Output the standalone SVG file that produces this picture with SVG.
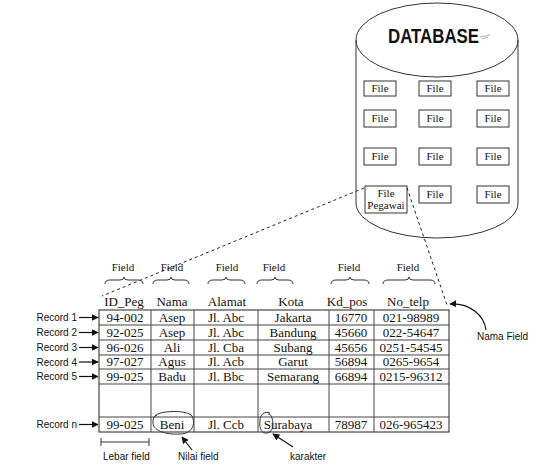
<svg xmlns="http://www.w3.org/2000/svg" width="547" height="466" viewBox="0 0 547 466">
<defs>
<marker id="arr" viewBox="0 0 10 10" refX="9" refY="5" markerWidth="7" markerHeight="7" markerUnits="userSpaceOnUse" orient="auto">
<path d="M0,0 L10,5 L0,10 z" fill="#111"/>
</marker>
</defs>
<style>
.serif{font-family:"Liberation Serif","Times New Roman",serif;fill:#111}
.sans{font-family:"Liberation Sans",Arial,sans-serif;fill:#111}
.box{fill:#fff;stroke:#333;stroke-width:1}
.ln{fill:none;stroke:#333;stroke-width:1}
.dash{fill:none;stroke:#222;stroke-width:1;stroke-dasharray:3,3}
.arrow{fill:none;stroke:#111;stroke-width:1.2;marker-end:url(#arr)}
.file{font-size:11px;text-anchor:middle}
.fld{font-size:11px;text-anchor:middle}
.hdr{font-size:13px;text-anchor:middle}
.cell{font-size:13px;text-anchor:middle}
.rec{font-size:10px;text-anchor:end}
.lbl{font-size:10px}
</style>
<rect width="547" height="466" fill="#fff"/>

<g id="database">
<path d="M356,40 L356,203 A81,35 0 0 0 518,203 L518,40" class="ln"/>
<ellipse cx="437" cy="40" rx="81" ry="37" class="ln"/>
<text x="388" y="43" class="sans" font-size="20" font-weight="bold" textLength="91" lengthAdjust="spacingAndGlyphs">DATABASE</text>
<path d="M480,37 L490,35 M482,39 L488,37" stroke="#999" stroke-width="0.8" fill="none"/>
</g>

<g id="files">
<g id="f11"><rect x="364" y="81" width="32" height="15" class="box"/><text x="380" y="92" class="serif file">File</text></g>
<g id="f12"><rect x="419" y="81" width="32" height="15" class="box"/><text x="435" y="92" class="serif file">File</text></g>
<g id="f13"><rect x="477" y="81" width="32" height="15" class="box"/><text x="493" y="92" class="serif file">File</text></g>
<g id="f21"><rect x="364" y="110" width="32" height="17" class="box"/><text x="380" y="122" class="serif file">File</text></g>
<g id="f22"><rect x="419" y="110" width="32" height="17" class="box"/><text x="435" y="122" class="serif file">File</text></g>
<g id="f23"><rect x="477" y="110" width="32" height="17" class="box"/><text x="493" y="122" class="serif file">File</text></g>
<g id="f31"><rect x="364" y="148" width="32" height="17" class="box"/><text x="380" y="160" class="serif file">File</text></g>
<g id="f32"><rect x="419" y="148" width="32" height="17" class="box"/><text x="435" y="160" class="serif file">File</text></g>
<g id="f33"><rect x="477" y="148" width="32" height="17" class="box"/><text x="493" y="160" class="serif file">File</text></g>
<g id="filePegawai"><rect x="365" y="186" width="42" height="27" class="box"/><text x="386" y="197" class="serif file">File</text><text x="386" y="209" class="serif file">Pegawai</text></g>
<g id="f42"><rect x="419" y="186" width="32" height="17" class="box"/><text x="435" y="198" class="serif file">File</text></g>
<g id="f43"><rect x="477" y="186" width="32" height="17" class="box"/><text x="493" y="198" class="serif file">File</text></g>
</g>

<g id="connectors">
<path d="M364,188 L102,296" class="dash"/>
<path d="M407,188 L447,305" class="dash"/>
<path d="M79,317.5 L98,317.5" class="arrow"/>
<path d="M79,332.5 L98,332.5" class="arrow"/>
<path d="M79,347.5 L98,347.5" class="arrow"/>
<path d="M79,362 L98,362" class="arrow"/>
<path d="M79,376.5 L98,376.5" class="arrow"/>
<path d="M79,424.5 L98,424.5" class="arrow"/>
<path d="M192,450 L182,437" class="arrow"/>
<path d="M293,447 L273,434" class="arrow"/>
<path d="M486,330 C484,315 470,303 450,304" class="arrow"/>
</g>

<g id="fields">
<g fill="none" stroke="#333" stroke-width="1">
<path d="M105,284 Q105,280 110,280 L120,280 Q124,280 124,277 Q124,280 128,280 L138,280 Q143,280 143,284"/>
<path d="M153,284 Q153,280 158,280 L167,280 Q171,280 171,277 Q171,280 175,280 L184,280 Q189,280 189,284"/>
<path d="M208,284 Q208,280 213,280 L222,280 Q226,280 226,277 Q226,280 230,280 L240,280 Q245,280 245,284"/>
<path d="M257,284 Q257,280 262,280 L271,280 Q275,280 275,277 Q275,280 279,280 L288,280 Q293,280 293,284"/>
<path d="M331,284 Q331,280 336,280 L346,280 Q350,280 350,277 Q350,280 354,280 L364,280 Q369,280 369,284"/>
<path d="M383,284 Q383,280 388,280 L405,280 Q409,280 409,277 Q409,280 413,280 L430,280 Q435,280 435,284"/>
</g>
<text x="123" y="271" class="serif fld">Field</text>
<text x="172" y="271" class="serif fld">Field</text>
<text x="227" y="271" class="serif fld">Field</text>
<text x="274" y="271" class="serif fld">Field</text>
<text x="349" y="271" class="serif fld">Field</text>
<text x="408" y="271" class="serif fld">Field</text>
</g>

<g id="table">
<g class="serif hdr">
<text x="124" y="306">ID_Peg</text>
<text x="172" y="306">Nama</text>
<text x="227" y="306">Alamat</text>
<text x="291" y="306">Kota</text>
<text x="347" y="306">Kd_pos</text>
<text x="408" y="306">No_telp</text>
</g>
<rect x="99" y="310" width="350" height="122" fill="none" stroke="#222" stroke-width="1"/>
<g stroke="#444" stroke-width="1">
<line x1="151" y1="310" x2="151" y2="432"/>
<line x1="194" y1="310" x2="194" y2="432"/>
<line x1="258" y1="310" x2="258" y2="432"/>
<line x1="329" y1="310" x2="329" y2="432"/>
<line x1="374" y1="310" x2="374" y2="432"/>
<line x1="99" y1="325" x2="449" y2="325"/>
<line x1="99" y1="340" x2="449" y2="340"/>
<line x1="99" y1="355" x2="449" y2="355"/>
<line x1="99" y1="369" x2="449" y2="369"/>
<line x1="99" y1="384" x2="449" y2="384"/>
<line x1="99" y1="417" x2="449" y2="417"/>
</g>
<g class="serif cell">
<text x="125" y="322">94-002</text><text x="172" y="322">Asep</text><text x="226" y="322">Jl. Abc</text><text x="293" y="322">Jakarta</text><text x="351" y="322">16770</text><text x="411" y="322">021-98989</text>
<text x="125" y="337">92-025</text><text x="172" y="337">Asep</text><text x="226" y="337">Jl. Abc</text><text x="293" y="337">Bandung</text><text x="351" y="337">45660</text><text x="411" y="337">022-54647</text>
<text x="125" y="352">96-026</text><text x="172" y="352">Ali</text><text x="226" y="352">Jl. Cba</text><text x="293" y="352">Subang</text><text x="351" y="352">45656</text><text x="411" y="352">0251-54545</text>
<text x="125" y="366">97-027</text><text x="172" y="366">Agus</text><text x="226" y="366">Jl. Acb</text><text x="293" y="366">Garut</text><text x="351" y="366">56894</text><text x="411" y="366">0265-9654</text>
<text x="125" y="381">99-025</text><text x="172" y="381">Badu</text><text x="226" y="381">Jl. Bbc</text><text x="293" y="381">Semarang</text><text x="351" y="381">66894</text><text x="411" y="381">0215-96312</text>
<text x="125" y="429">99-025</text><text x="172" y="429">Beni</text><text x="226" y="429">Jl. Ccb</text><text x="288" y="429">Surabaya</text><text x="351" y="429">78987</text><text x="411" y="429">026-965423</text>
</g>
</g>

<g id="records" class="sans rec">
<text x="77" y="321">Record 1</text>
<text x="77" y="336">Record 2</text>
<text x="77" y="351">Record 3</text>
<text x="77" y="365.5">Record 4</text>
<text x="77" y="380">Record 5</text>
<text x="77" y="428">Record n</text>
</g>

<g id="annotations">
<path d="M155,416 C160,410 188,410 192,416 C196,424 192,434 180,434 C165,435 152,430 153,422 C153,418 154,416 157,415" class="ln" stroke="#222"/>
<path d="M270,413 C265,411 260,414 260,421 C259,429 262,434 267,433 C273,432 274,425 272,418 C271,415 270,414 268,414" class="ln" stroke="#222"/>
<g stroke="#333" stroke-width="1">
<line x1="101" y1="442" x2="149" y2="442"/>
<line x1="101" y1="438" x2="101" y2="446"/>
<line x1="149" y1="438" x2="149" y2="446"/>
</g>
<text x="103" y="460" class="sans lbl">Lebar field</text>
<text x="178" y="460" class="sans lbl">Nilai field</text>
<text x="290" y="460" class="sans lbl">karakter</text>
<text x="477" y="340" class="sans lbl">Nama Field</text>
</g>
</svg>
